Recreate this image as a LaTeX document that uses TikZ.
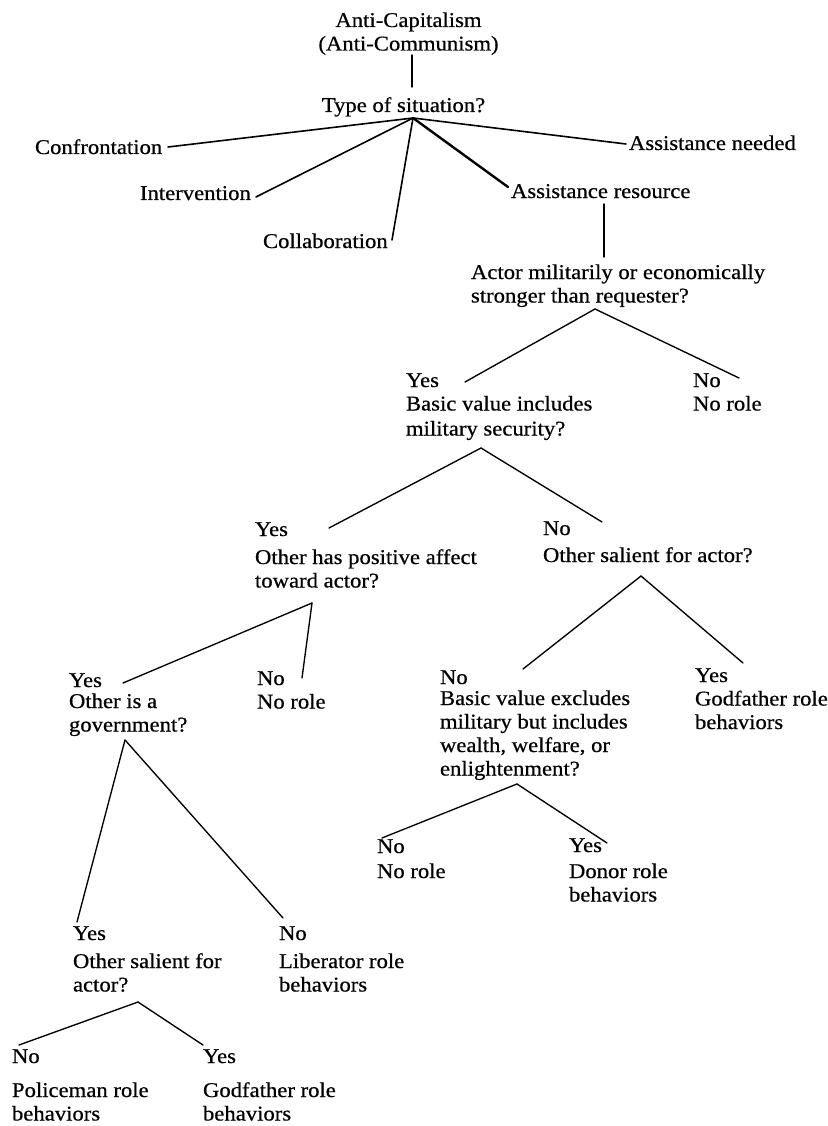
\documentclass[tikz,border=0pt]{standalone}
\usepackage{fontspec}
\setmainfont{Liberation Serif}[FakeStretch=1.08,FakeBold=0.6]
% a left-aligned block of lines whose baseline is that of its first line
\newcommand\txtblock[1]{\begin{tabular}[t]{@{}l@{}}#1\end{tabular}}
\newcommand\txtcentre[1]{\begin{tabular}[t]{@{}c@{}}#1\end{tabular}}
\begin{document}
\begin{tikzpicture}[x=1pt,y=-1pt,
  lbl/.style={anchor=base west,inner sep=0pt,outer sep=0pt,
              font=\fontsize{21}{23.5}\selectfont},
  ctr/.style={lbl,anchor=base},
  branch/.style={line width=1.35pt,line cap=round},
  spoke/.style={line width=1.6pt,line cap=round},
  heavy/.style={line width=2.4pt,line cap=round}]
\useasboundingbox (0,0) rectangle (827,1126);

% ---------- root and situation types ----------
\node[ctr] (root) at (408.5,27) {\txtcentre{Anti-Capitalism\\(Anti-Communism)}};
\node[ctr] (type) at (403.5,112) {Type of situation?};
\node[lbl] (conf) at (35,154) {Confrontation};
\node[lbl] (inter) at (140,200) {Intervention};
\node[lbl] (collab) at (263,248) {Collaboration};
\node[lbl] (need) at (629,150) {Assistance needed};
\node[lbl] (res) at (511,198) {Assistance resource};

\coordinate (root-foot) at (412,55);
\coordinate (type-head) at (412,87);
\coordinate (hub) at (413,118);
\coordinate (conf-end) at (168,147);
\coordinate (inter-end) at (256,197);
\coordinate (collab-end) at (392,240);
\coordinate (need-end) at (626,144);
\coordinate (res-end) at (508,187);

\draw[branch] (root-foot) -- (type-head);
\draw[spoke] (hub) -- (conf-end);
\draw[spoke] (hub) -- (inter-end);
\draw[spoke] (hub) -- (collab-end);
\draw[spoke] (hub) -- (need-end);
\draw[heavy] (hub) -- (res-end);

% ---------- assistance resource branch ----------
\node[lbl] (strong) at (471,279) {\txtblock{Actor militarily or economically\\stronger than requester?}};
\coordinate (res-foot) at (604,204);
\coordinate (strong-head) at (604,257);
\draw[branch] (res-foot) -- (strong-head);

\node[lbl] (milsec) at (406,387) {\txtblock{Yes\\Basic value includes\\[1.5pt]military security?}};
\node[lbl] (norole1) at (693,387) {\txtblock{No\\No role}};
\coordinate (strong-apex) at (595,309);
\coordinate (milsec-end) at (465,382);
\coordinate (norole1-end) at (739,378);
\draw[branch] (strong-apex) -- (milsec-end);
\draw[branch] (strong-apex) -- (norole1-end);

\node[lbl] (affect) at (255,536) {\txtblock{Yes\\[4.5pt]Other has positive affect\\toward actor?}};
\node[lbl] (salient1) at (543,535) {\txtblock{No\\[3.5pt]Other salient for actor?}};
\coordinate (milsec-apex) at (481,448);
\coordinate (affect-end) at (329,528);
\coordinate (salient1-end) at (602,522);
\draw[branch] (milsec-apex) -- (affect-end);
\draw[branch] (milsec-apex) -- (salient1-end);

% ---------- positive affect branch ----------
\node[lbl] (govt) at (69,687) {\txtblock{Yes\\[-2.5pt]Other is a\\government?}};
\node[lbl] (norole2) at (257,685) {\txtblock{No\\No role}};
\coordinate (affect-apex) at (312,603);
\coordinate (govt-end) at (123,683);
\coordinate (norole2-end) at (302,678);
\draw[branch] (affect-apex) -- (govt-end);
\draw[branch] (affect-apex) -- (norole2-end);

\node[lbl] (salient2) at (73,940) {\txtblock{Yes\\[4.5pt]Other salient for\\actor?}};
\node[lbl] (liberator) at (279,940) {\txtblock{No\\[4.5pt]Liberator role\\behaviors}};
\coordinate (govt-apex) at (125,740);
\coordinate (salient2-end) at (77,922);
\coordinate (liberator-end) at (283,918);
\draw[branch] (govt-apex) -- (salient2-end);
\draw[branch] (govt-apex) -- (liberator-end);

\node[lbl] (police) at (12,1063) {\txtblock{No\\[10.5pt]Policeman role\\behaviors}};
\node[lbl] (godfather2) at (203,1063) {\txtblock{Yes\\[10.5pt]Godfather role\\behaviors}};
\coordinate (salient2-apex) at (138,1002);
\coordinate (police-end) at (19,1045);
\coordinate (godfather2-end) at (203,1045);
\draw[branch] (salient2-apex) -- (police-end);
\draw[branch] (salient2-apex) -- (godfather2-end);

% ---------- other salient branch ----------
\node[lbl] (excl) at (440,684) {\txtblock{No\\[-2.5pt]Basic value excludes\\military but includes\\wealth, welfare, or\\enlightenment?}};
\node[lbl] (godfather1) at (695,682) {\txtblock{Yes\\Godfather role\\behaviors}};
\coordinate (salient1-apex) at (641,576);
\coordinate (excl-end) at (523,669);
\coordinate (godfather1-end) at (743,663);
\draw[branch] (salient1-apex) -- (excl-end);
\draw[branch] (salient1-apex) -- (godfather1-end);

\node[lbl] (norole3) at (377,853) {\txtblock{No\\[1.5pt]No role}};
\node[lbl] (donor) at (569,852) {\txtblock{Yes\\[2.5pt]Donor role\\behaviors}};
\coordinate (excl-apex) at (517,784);
\coordinate (norole3-end) at (382,838);
\coordinate (donor-end) at (607,843);
\draw[branch] (excl-apex) -- (norole3-end);
\draw[branch] (excl-apex) -- (donor-end);
\end{tikzpicture}
\end{document}
